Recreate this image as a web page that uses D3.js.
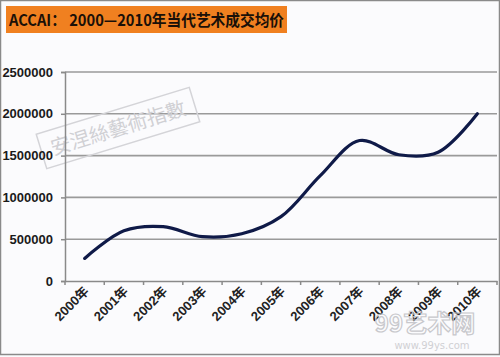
<!DOCTYPE html>
<html><head><meta charset="utf-8">
<script src="https://cdn.jsdelivr.net/npm/d3@7"></script>
<style>body{margin:0;background:#fbfbfd}svg{display:block}</style>
</head><body>
<script>
const years = ["2000年","2001年","2002年","2003年","2004年","2005年","2006年","2007年","2008年","2009年","2010年"];
const prices = [270000, 600000, 650000, 530000, 565000, 770000, 1260000, 1680000, 1510000, 1540000, 2000000];
const yTicks = [0, 500000, 1000000, 1500000, 2000000, 2500000];
const title = "ACCAI：  2000—2010年当代艺术成交均价";

const W = 500, H = 357;
const svg = d3.select("body").append("svg").attr("width", W).attr("height", H);
svg.append("rect").attr("x",0.5).attr("y",0.5).attr("width",W-1).attr("height",354)
  .attr("fill","#fbfbfd").attr("stroke","#8a8a8a").attr("stroke-width",1.5);

const x = d3.scaleBand().domain(years).range([65, 497]);
const y = d3.scaleLinear().domain([0, 2500000]).range([281, 72]);

// gridlines
svg.append("g").selectAll("line").data(yTicks.slice(1)).join("line")
  .attr("x1", 65).attr("x2", 497).attr("y1", d => y(d)).attr("y2", d => y(d))
  .attr("stroke", "#9a9a9a").attr("stroke-width", 1.6);

// watermark
const wm = svg.append("g").attr("transform","translate(118,128) rotate(-17)");
wm.append("rect").attr("x",-80).attr("y",-18).attr("width",160).attr("height",36)
  .attr("fill","none").attr("stroke","#d4d4d8").attr("stroke-width",1.5);
wm.append("text").attr("text-anchor","middle").attr("dy","0.36em")
  .attr("font-family","Noto Sans CJK TC").attr("font-size",20).attr("fill","#d0d0d4")
  .text("安涅絲藝術指數");

// y axis
const ya = svg.append("g").attr("transform","translate(65,0)")
  .call(d3.axisLeft(y).tickValues(yTicks).tickSize(4).tickPadding(8).tickFormat(d3.format("d")));
ya.select(".domain").attr("stroke","#8a8a8a").attr("stroke-width",1.5);
ya.selectAll(".tick line").attr("stroke","#8a8a8a").attr("stroke-width",1.5);
ya.selectAll("text").attr("font-family","Liberation Sans, Arial").attr("font-weight","bold")
  .attr("font-size",13).attr("fill","#1a1a1a");

// x axis
const xa = svg.append("g").attr("transform","translate(0,281)")
  .call(d3.axisBottom(x).tickSize(0).tickPadding(0));
xa.select(".domain").attr("stroke","#8a8a8a").attr("stroke-width",1.5);
xa.selectAll(".tick text").remove();
svg.append("g").selectAll("line").data(years.concat([null])).join("line")
  .attr("x1",(d,i)=> i<years.length ? x(d) : x.range()[1])
  .attr("x2",(d,i)=> i<years.length ? x(d) : x.range()[1])
  .attr("y1",281).attr("y2",285).attr("stroke","#8a8a8a").attr("stroke-width",1.5);
svg.append("g").selectAll("text").data(years).join("text")
  .attr("transform", d => `translate(${x(d)+x.bandwidth()/2+5},${292}) rotate(-45)`)
  .attr("text-anchor","end")
  .attr("font-family","Liberation Sans, Noto Sans CJK SC").attr("font-weight","bold").attr("font-size",13)
  .attr("fill","#222").text(d => d);

// line
const line = d3.line()
  .x((d,i) => x(years[i]) + x.bandwidth()/2)
  .y(d => y(d))
  .curve(d3.curveCatmullRom.alpha(0.5));
svg.append("path").datum(prices).attr("d", line)
  .attr("fill","none").attr("stroke","#0f1a48").attr("stroke-width",3.2)
  .attr("stroke-linecap","round").attr("stroke-linejoin","round");

// title
svg.append("rect").attr("x",6).attr("y",6).attr("width",281).attr("height",27).attr("fill","#f08020");
svg.append("text").attr("x",9).attr("y",26)
  .attr("font-family","Noto Sans CJK SC").attr("font-weight","bold").attr("font-size",16)
  .attr("fill","#1a1008").attr("textLength",275).attr("lengthAdjust","spacingAndGlyphs")
  .text(title);

// site watermark
svg.append("text").attr("x",425).attr("y",332).attr("text-anchor","middle")
  .attr("font-family","Noto Sans CJK SC").attr("font-weight","bold").attr("font-size",24)
  .attr("fill","none").attr("stroke","#c8c8cc").attr("stroke-width",1.2).text("99艺术网");
svg.append("text").attr("x",432).attr("y",349).attr("text-anchor","middle")
  .attr("font-family","DejaVu Sans").attr("font-size",10)
  .attr("fill","#d0d0d4").text("www.99ys.com");
</script>
</body></html>
